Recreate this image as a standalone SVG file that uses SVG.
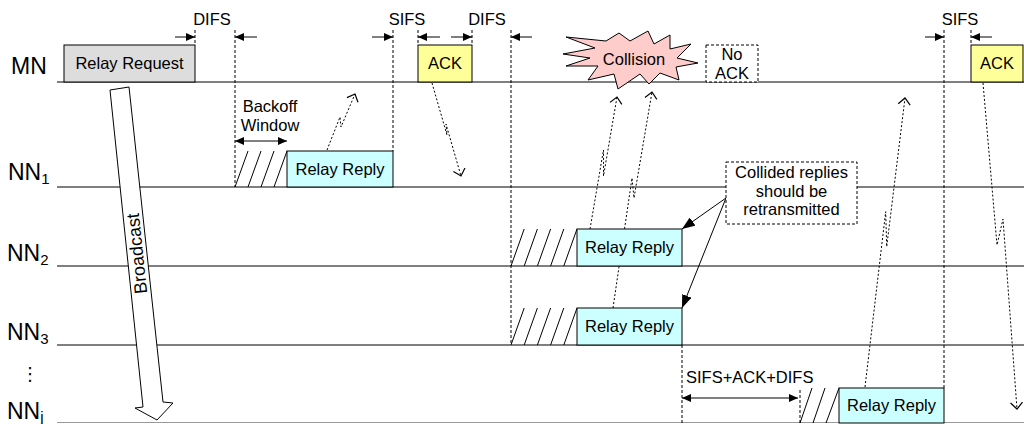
<svg xmlns="http://www.w3.org/2000/svg" width="1024" height="424" viewBox="0 0 1024 424">
<defs>
<marker id="fa" viewBox="0 0 9 8" refX="9" refY="4" markerWidth="9" markerHeight="8" orient="auto-start-reverse" markerUnits="userSpaceOnUse"><path d="M0,0 L9,4 L0,8 z" fill="#000"/></marker>
<marker id="oa" viewBox="0 0 8 14" refX="7" refY="7" markerWidth="8" markerHeight="14" orient="auto" markerUnits="userSpaceOnUse"><path d="M0.5,1 L7,7 L0.5,13" fill="none" stroke="#000" stroke-width="1.2"/></marker>
<marker id="ba" viewBox="0 0 13 10" refX="13" refY="5" markerWidth="13" markerHeight="10" orient="auto" markerUnits="userSpaceOnUse"><path d="M0,0 L13,5 L0,10 z" fill="#000"/></marker>
<style>
text{font-family:"Liberation Sans",Arial,sans-serif;font-size:16.5px;fill:#000}
.lbl{font-size:23px}
.sub{font-size:15px}
.mid{text-anchor:middle}
.tl{stroke:#000;stroke-width:1.2}
.dash{stroke:#000;stroke-width:1;stroke-dasharray:3,2;fill:none}
.sig{stroke:#000;stroke-width:1;stroke-dasharray:2,2;fill:none;marker-end:url(#oa)}
.tarr{stroke:#000;stroke-width:1;marker-end:url(#fa)}
.darr{stroke:#000;stroke-width:1;marker-start:url(#fa);marker-end:url(#fa)}
.hatch{stroke:#000;stroke-width:1}
.box{stroke:#000;stroke-width:1}
.req{fill:#DDDDDD}
.rep{fill:#CCFFFF}
.ack{fill:#FFFF99}
.note{fill:#fff;stroke:#000;stroke-width:1;stroke-dasharray:3,2}
</style>
</defs>

<g id="timelines">
<line class="tl" x1="57" y1="82" x2="1024" y2="82"/>
<line class="tl" x1="57" y1="187" x2="1024" y2="187"/>
<line class="tl" x1="57" y1="266" x2="1024" y2="266"/>
<line class="tl" x1="57" y1="345" x2="1024" y2="345"/>
<line x1="57" y1="422.5" x2="1024" y2="422.5" stroke="#999" stroke-width="1"/>
</g>

<g id="labels">
<text class="lbl" x="11" y="74">MN</text>
<text class="lbl" x="8" y="180">NN<tspan class="sub" dy="4">1</tspan></text>
<text class="lbl" x="7" y="261">NN<tspan class="sub" dy="4">2</tspan></text>
<text class="lbl" x="7" y="340">NN<tspan class="sub" dy="4">3</tspan></text>
<text x="30" y="380" class="mid" style="font-family:'DejaVu Sans',sans-serif;font-size:18px">⋮</text>
<text class="lbl" x="7" y="419">NN<tspan class="sub" dy="3">j</tspan></text>
</g>

<g id="timing">
<line class="dash" x1="195" y1="30" x2="195" y2="45"/>
<line class="dash" x1="235" y1="30" x2="235" y2="187"/>
<line class="dash" x1="393" y1="30" x2="393" y2="151"/>
<line class="dash" x1="418" y1="30" x2="418" y2="45"/>
<line class="dash" x1="472" y1="30" x2="472" y2="45"/>
<line class="dash" x1="511" y1="30" x2="511" y2="345"/>
<line class="dash" x1="944" y1="30" x2="944" y2="388"/>
<line class="dash" x1="971" y1="30" x2="971" y2="45"/>
<line class="dash" x1="682" y1="345" x2="682" y2="424"/>
<line class="dash" x1="800" y1="390" x2="800" y2="424"/>
<line class="tarr" x1="175" y1="37" x2="195" y2="37"/>
<line class="tarr" x1="257" y1="37" x2="235" y2="37"/>
<line class="tarr" x1="372" y1="37" x2="393" y2="37"/>
<line class="tarr" x1="440" y1="37" x2="418" y2="37"/>
<line class="tarr" x1="451" y1="37" x2="472" y2="37"/>
<line class="tarr" x1="532" y1="37" x2="511" y2="37"/>
<line class="tarr" x1="925" y1="37" x2="944" y2="37"/>
<line class="tarr" x1="992" y1="37" x2="971" y2="37"/>
<text class="mid" x="212" y="25">DIFS</text>
<text class="mid" x="407" y="25">SIFS</text>
<text class="mid" x="487" y="25">DIFS</text>
<text class="mid" x="960" y="25">SIFS</text>
<line class="darr" x1="235" y1="141" x2="287" y2="141"/>
<text class="mid" x="270" y="112">Backoff</text>
<text class="mid" x="270" y="131">Window</text>
<line class="darr" x1="682" y1="398" x2="798" y2="398"/>
<text x="686" y="383">SIFS+ACK+DIFS</text>
</g>

<g id="connectors">
<polyline class="sig" points="327,150 340,117 341,127 355,94"/>
<polyline class="sig" points="432,83 447,135 446,124 461,176"/>
<polyline class="sig" points="590,229 603.5,150 603.5,176 617,97"/>
<polyline class="sig" points="613,308 632,178 634,198 652,92"/>
<polyline class="sig" points="865,387 885.7,211.7 886.7,246.7 905,98"/>
<polyline class="sig" points="983,83 997,245 1003,219 1017,409"/>
<line x1="726" y1="198" x2="682" y2="229" stroke="#000" stroke-width="1" marker-end="url(#ba)"/>
<line x1="726" y1="198" x2="682" y2="308" stroke="#000" stroke-width="1" marker-end="url(#ba)"/>
</g>

<g id="broadcast">
<polygon points="110,90 129,87 163,402 173,403 157,420 135,408 143,407" fill="#fff" stroke="#000" stroke-width="1"/>
<text class="mid" transform="translate(143,253) rotate(-96)" style="font-size:18px">Broadcast</text>
</g>

<g id="relay-request">
<rect class="box req" x="64" y="45" width="131" height="37"/>
<text class="mid" x="129.5" y="69">Relay Request</text>
</g>

<g id="nn1-reply">
<line class="hatch" x1="235" y1="187" x2="248" y2="151"/>
<line class="hatch" x1="248" y1="187" x2="261" y2="151"/>
<line class="hatch" x1="261" y1="187" x2="274" y2="151"/>
<line class="hatch" x1="274" y1="187" x2="287" y2="151"/>
<rect class="box rep" x="287" y="151" width="106" height="36"/>
<text class="mid" x="340" y="175">Relay Reply</text>
</g>

<g id="ack1">
<rect class="box ack" x="418" y="45" width="54" height="37"/>
<text class="mid" x="445" y="69">ACK</text>
</g>

<g id="nn2-reply">
<line class="hatch" x1="511" y1="266" x2="524.2" y2="229"/>
<line class="hatch" x1="524.2" y1="266" x2="537.4" y2="229"/>
<line class="hatch" x1="537.4" y1="266" x2="550.6" y2="229"/>
<line class="hatch" x1="550.6" y1="266" x2="563.8" y2="229"/>
<line class="hatch" x1="563.8" y1="266" x2="577" y2="229"/>
<rect class="box rep" x="577" y="229" width="105" height="37"/>
<text class="mid" x="629.5" y="253">Relay Reply</text>
</g>

<g id="nn3-reply">
<line class="hatch" x1="511" y1="345" x2="524.2" y2="308"/>
<line class="hatch" x1="524.2" y1="345" x2="537.4" y2="308"/>
<line class="hatch" x1="537.4" y1="345" x2="550.6" y2="308"/>
<line class="hatch" x1="550.6" y1="345" x2="563.8" y2="308"/>
<line class="hatch" x1="563.8" y1="345" x2="577" y2="308"/>
<rect class="box rep" x="577" y="308" width="105" height="37"/>
<text class="mid" x="629.5" y="332">Relay Reply</text>
</g>

<g id="collision">
<polygon points="563,54 595,48 566,37 606,41 619,33 630,41 648,31 654,44 670,35 670,49 691,44 677,58 698,63 676,67 679,80 660,73 649,84 640,74 618,89 614,74 588,80 598,66 566,66 590,58" fill="#FFCCCC" stroke="#000" stroke-width="1"/>
<text class="mid" x="634" y="65">Collision</text>
</g>

<g id="no-ack">
<rect class="note" x="706" y="45" width="52" height="37"/>
<text class="mid" x="732" y="60">No</text>
<text class="mid" x="732" y="79">ACK</text>
</g>

<g id="collided-note">
<rect class="note" x="726" y="162" width="131" height="62"/>
<text class="mid" x="791.5" y="178">Collided replies</text>
<text class="mid" x="791.5" y="197">should be</text>
<text class="mid" x="791.5" y="215">retransmitted</text>
</g>

<g id="nnj-reply">
<line class="hatch" x1="800" y1="423" x2="812" y2="388"/>
<line class="hatch" x1="813" y1="423" x2="825" y2="388"/>
<line class="hatch" x1="826" y1="423" x2="839" y2="388"/>
<rect class="box rep" x="839" y="388" width="105" height="35"/>
<text class="mid" x="891.5" y="411">Relay Reply</text>
</g>

<g id="ack2">
<rect class="box ack" x="971" y="45" width="52" height="37"/>
<text class="mid" x="997" y="69">ACK</text>
</g>
</svg>
